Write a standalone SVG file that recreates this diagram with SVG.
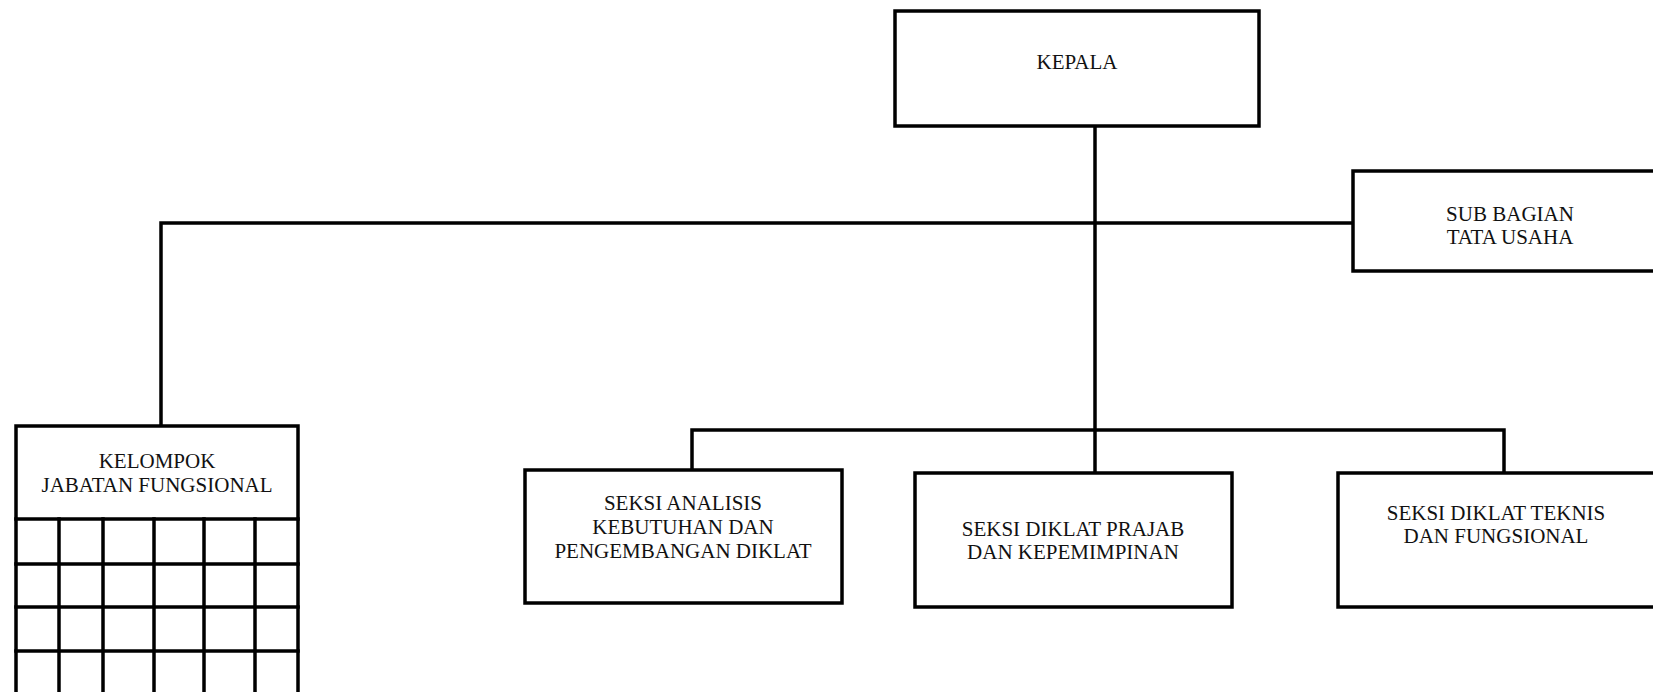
<svg xmlns="http://www.w3.org/2000/svg" width="1653" height="692" viewBox="0 0 1653 692">
<style>
.box{fill:#fff;stroke:#000;stroke-width:3.5}
.ln{fill:none;stroke:#000;stroke-width:3.5;stroke-linecap:square}
text{font-family:"Liberation Serif","Times New Roman",serif;font-size:21px;fill:#111;text-anchor:middle}
</style>
<rect width="1653" height="692" fill="#fff"/>
<g id="connectors">
<line class="ln" x1="1095" y1="126" x2="1095" y2="473"/>
<polyline class="ln" points="161,426 161,223 1353,223"/>
<polyline class="ln" points="692,471 692,430 1504,430 1504,473"/>
</g>
<g id="kepala">
<rect class="box" x="895" y="11" width="364" height="115"/>
<text x="1077" y="69">KEPALA</text>
</g>
<g id="subbagian">
<rect class="box" x="1353" y="171" width="320" height="100"/>
<text x="1510" y="221">SUB BAGIAN</text>
<text x="1510" y="244">TATA USAHA</text>
</g>
<g id="kelompok">
<rect class="box" x="16" y="426" width="282" height="290"/>
<line class="ln" x1="16" y1="519" x2="298" y2="519"/>
<line class="ln" x1="16" y1="564" x2="298" y2="564"/>
<line class="ln" x1="16" y1="607" x2="298" y2="607"/>
<line class="ln" x1="16" y1="651" x2="298" y2="651"/>
<line class="ln" x1="59" y1="519" x2="59" y2="700"/>
<line class="ln" x1="103" y1="519" x2="103" y2="700"/>
<line class="ln" x1="154" y1="519" x2="154" y2="700"/>
<line class="ln" x1="204" y1="519" x2="204" y2="700"/>
<line class="ln" x1="255" y1="519" x2="255" y2="700"/>
<text x="157" y="468">KELOMPOK</text>
<text x="157" y="492">JABATAN FUNGSIONAL</text>
</g>
<g id="seksi-analisis">
<rect class="box" x="525" y="470" width="317" height="133"/>
<text x="683" y="510">SEKSI ANALISIS</text>
<text x="683" y="534">KEBUTUHAN DAN</text>
<text x="683" y="558">PENGEMBANGAN DIKLAT</text>
</g>
<g id="seksi-prajab">
<rect class="box" x="915" y="473" width="317" height="134"/>
<text x="1073" y="536">SEKSI DIKLAT PRAJAB</text>
<text x="1073" y="559">DAN KEPEMIMPINAN</text>
</g>
<g id="seksi-teknis">
<rect class="box" x="1338" y="473" width="330" height="134"/>
<text x="1496" y="520">SEKSI DIKLAT TEKNIS</text>
<text x="1496" y="543">DAN FUNGSIONAL</text>
</g>
</svg>
